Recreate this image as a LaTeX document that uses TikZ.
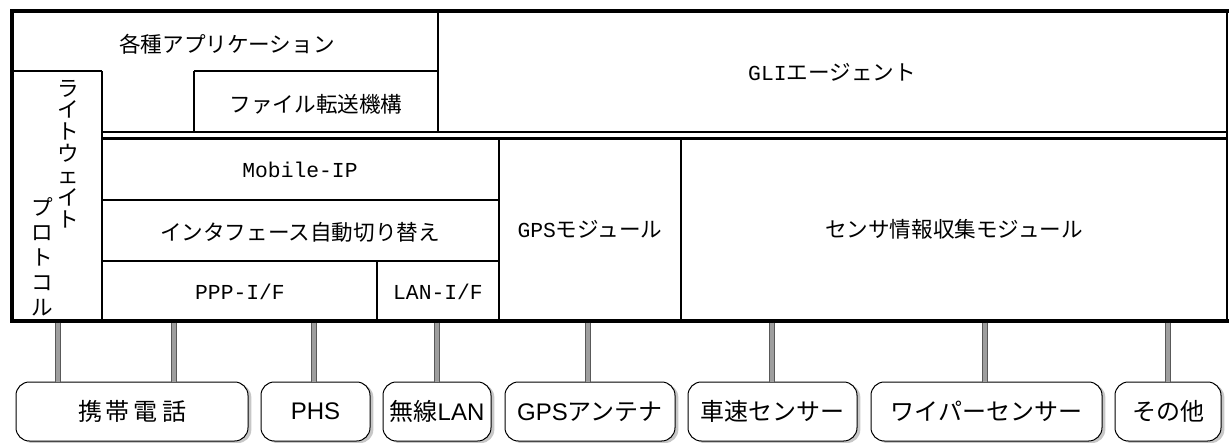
\documentclass[tikz,border=0pt]{standalone}
\usepackage{fontspec}
\setmonofont{Liberation Mono}
\newfontfamily\jp{Noto Sans CJK JP}
\newfontfamily\lsans{Liberation Sans}
\usetikzlibrary{shadows}
\begin{document}
\begin{tikzpicture}[x=0.75pt,y=-0.75pt,
  frame/.style={line width=3pt},
  thinl/.style={line width=0.9pt},
  medl/.style={line width=1.6pt},
  lbl/.style={font=\jp\fontsize{16.2}{18}\selectfont, inner sep=0pt},
  mlbl/.style={font=\ttfamily\fontsize{16}{18}\selectfont, inner sep=0pt},
  vlbl/.style={inner sep=0pt, align=center},
  dev/.style={draw, line width=0.75pt, rounded corners=10pt, fill=white, inner sep=0pt,
    minimum height=44.25pt, font=\jp\fontsize{18}{20}\selectfont,
    drop shadow={shadow xshift=2.5pt, shadow yshift=-1.5pt, fill=gray!55, opacity=0.8}},
  conn/.style={draw=black!65, line width=0.55pt, double=black!38, double distance=3.6pt}
]
\useasboundingbox (0,0) rectangle (1229,443);

% ---- grid of the system block ----
\draw[thinl] (12,71) -- (102,71);
\draw[thinl] (194,71) -- (438,71);
\draw[thinl] (194,71) -- (194,132);
\draw[thinl] (438,10) -- (438,132);
\draw[thinl] (102,71) -- (102,321);
\draw[medl] (102,132) -- (1227,132);
\draw[medl] (102,138.5) -- (1227,138.5);
\draw[medl] (102,200) -- (499,200);
\draw[medl] (102,261) -- (499,261);
\draw[thinl] (377,261) -- (377,321);
\draw[thinl] (499,138) -- (499,321);
\draw[thinl] (681,138) -- (681,321);
\draw[thinl] (1227,10) -- (1227,321);
\draw[frame] (1229,10.5) -- (11.5,10.5) -- (11.5,320.5) -- (1229,320.5);

% ---- labels ----
\node[lbl] (app) at (227,44) {各種アプリケーション};
\node[lbl] (ftp) at (316,104) {ファイル転送機構};
\node[lbl] (gli) at (832,72) {{\ttfamily\fontsize{16}{18}\selectfont GLI}エージェント};
\node[mlbl] (mip) at (300,170) {Mobile-IP};
\node[lbl] (ifsw) at (300,232) {インタフェース自動切り替え};
\node[mlbl] (ppp) at (240,292) {PPP-I/F};
\node[mlbl] (lan) at (438,292) {LAN-I/F};
\node[lbl] (gps) at (590,229) {{\ttfamily\fontsize{16}{18}\selectfont GPS}モジュール};
\node[lbl] (sens) at (954,229) {センサ情報収集モジュール};
\node[vlbl, font=\jp\fontsize{16.2}{16.4}\selectfont] (lw1) at (68,154) {ラ\\イ\\ト\\ウ\\ェ\\イ\\ト};
\node[vlbl, font=\jp\fontsize{16.2}{18.8}\selectfont] (lw2) at (42,257) {プ\\ロ\\ト\\コ\\ル};

% ---- devices ----
\node[dev, minimum width=174pt] (d1) at (132,411.5) {携\,帯\,電\,話};
\node[dev, minimum width=81.75pt] (d2) at (315.5,411.5) {\lsans PHS};
\node[dev, minimum width=81pt] (d3) at (437,411.5) {無線{\lsans LAN}};
\node[dev, minimum width=127.5pt] (d4) at (590,411.5) {{\lsans GPS}アンテナ};
\node[dev, minimum width=126.75pt] (d5) at (772.5,411.5) {車速センサー};
\node[dev, minimum width=173.25pt] (d6) at (986.5,411.5) {ワイパーセンサー};
\node[dev, minimum width=79.5pt] (d7) at (1168,411.5) {その他};

% ---- connectors ----
\coordinate (p1) at (58,322.5);
\coordinate (p2) at (174,322.5);
\coordinate (p3) at (314,322.5);
\coordinate (p4) at (437,322.5);
\coordinate (p5) at (588,322.5);
\coordinate (p6) at (772,322.5);
\coordinate (p7) at (985,322.5);
\coordinate (p8) at (1168,322.5);
\draw[conn] (p1) -- (p1 |- d1.north);
\draw[conn] (p2) -- (p2 |- d1.north);
\draw[conn] (p3) -- (p3 |- d2.north);
\draw[conn] (p4) -- (p4 |- d3.north);
\draw[conn] (p5) -- (p5 |- d4.north);
\draw[conn] (p6) -- (p6 |- d5.north);
\draw[conn] (p7) -- (p7 |- d6.north);
\draw[conn] (p8) -- (p8 |- d7.north);
\end{tikzpicture}
\end{document}
